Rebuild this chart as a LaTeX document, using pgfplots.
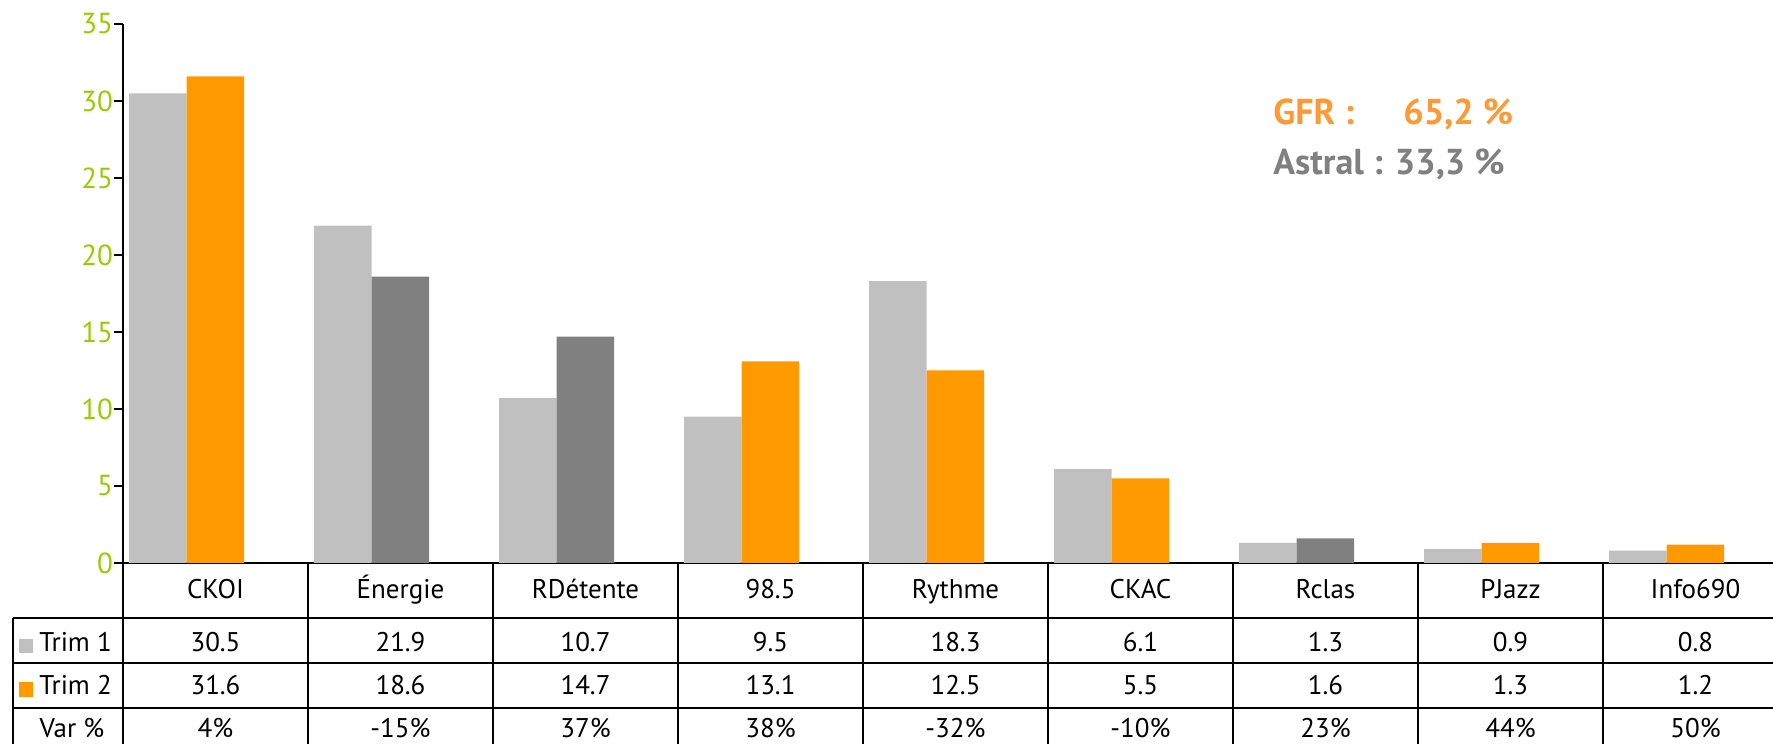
\documentclass[border=0pt]{standalone}
\usepackage{fontspec}
\setmainfont{PT Sans}
\usepackage{pgfplots}
\usepackage{pgfplotstable}
\pgfplotsset{compat=1.18}

\definecolor{trimgris}{HTML}{C0C0C0}
\definecolor{gfr}{HTML}{FF9900}
\definecolor{astral}{HTML}{808080}
\definecolor{vert}{HTML}{99CC00}
\definecolor{gfrtxt}{HTML}{FF9933}

% cotes d'ecoute, Trim 1 / Trim 2, variation en %
\pgfplotstableread{
x t1 t2 var name
0 30.5 31.6 4 CKOI
1 21.9 18.6 -15 Énergie
2 10.7 14.7 37 RDétente
3 9.5 13.1 38 98.5
4 18.3 12.5 -32 Rythme
5 6.1 5.5 -10 CKAC
6 1.3 1.6 23 Rclas
7 0.9 1.3 44 PJazz
8 0.8 1.2 50 Info690
}\cotes

% Trim 2, stations GFR (orange)
\pgfplotstableread{
x t2
0 31.6
3 13.1
4 12.5
5 5.5
7 1.3
8 1.2
}\gfrtab

% Trim 2, stations Astral (gris fonce)
\pgfplotstableread{
x t2
1 18.6
2 14.7
6 1.6
}\astraltab

\begin{document}
\begin{tikzpicture}[font=\fontsize{13.5}{16}\selectfont]
\begin{axis}[
    at={(0,0)}, anchor=south west,
    scale only axis,
    width=832.5pt, height=269.5pt,
    xmin=-0.5, xmax=8.5,
    ymin=0, ymax=35,
    axis x line=bottom, axis y line=left,
    axis line style={-, line width=1.4pt, black},
    xtick=\empty,
    ytick={0,5,...,35},
    tick align=outside,
    major tick length=4.5pt,
    tick style={line width=1.4pt, black},
    /pgf/number format/assume math mode=true,
    yticklabel style={text=vert, font=\fontsize{14.5}{17}\selectfont, xshift=3pt},
    clip=false,
]
\addplot[ybar, bar width=28.75pt, bar shift=-28.75pt, fill=trimgris, draw=none]
    table[x=x, y=t1] {\cotes};
\addplot[ybar, bar width=28.75pt, bar shift=0pt, fill=gfr, draw=none]
    table[x=x, y=t2] {\gfrtab};
\addplot[ybar, bar width=28.75pt, bar shift=0pt, fill=astral, draw=none]
    table[x=x, y=t2] {\astraltab};
\end{axis}

\begin{scope}[x=0.5pt, y=0.5pt]
    % grille du tableau
    \begin{scope}[line width=1.3pt]
        \draw (-110,-55) -- (1700,-55);
        \draw (-110,-100) -- (1700,-100);
        \draw (-110,-145) -- (1700,-145);
        \draw (-110,-55) -- (-110,-220);
        \foreach \k in {0,...,9} \draw (185*\k,0) -- (185*\k,-220);
    \end{scope}

    % contenu
    \foreach \i in {0,...,8} {
        \pgfplotstablegetelem{\i}{name}\of\cotes
        \node[anchor=base] at (185*\i+92.5,-36) {\pgfplotsretval};
        \pgfplotstablegetelem{\i}{t1}\of\cotes
        \node[anchor=base] at (185*\i+92.5,-89) {\pgfplotsretval};
        \pgfplotstablegetelem{\i}{t2}\of\cotes
        \node[anchor=base] at (185*\i+92.5,-132) {\pgfplotsretval};
        \pgfplotstablegetelem{\i}{var}\of\cotes
        \node[anchor=base] at (185*\i+92.5,-175) {\pgfplotsretval\%};
    }

    % legende
    \fill[trimgris] (-104,-90) rectangle (-90,-76);
    \fill[gfr] (-104,-134) rectangle (-90,-119);
    \node[anchor=base west, inner sep=0] at (-84,-89) {Trim 1};
    \node[anchor=base west, inner sep=0] at (-84,-132) {Trim 2};
    \node[anchor=base, inner sep=0] at (-51,-175) {Var \%};

    % parts de marche
    \begin{scope}[font=\bfseries\fontsize{18}{21}\selectfont]
        \node[anchor=base west, inner sep=0, text=gfrtxt] at (1150,438) {GFR :};
        \node[anchor=base west, inner sep=0, text=gfrtxt] at (1280,438) {65,2 \%};
        \node[anchor=base west, inner sep=0, text=astral] at (1150,388) {Astral : 33,3 \%};
    \end{scope}

    \pgfresetboundingbox
    \useasboundingbox (-123,-181) rectangle (1650,563);
\end{scope}
\end{tikzpicture}
\end{document}
